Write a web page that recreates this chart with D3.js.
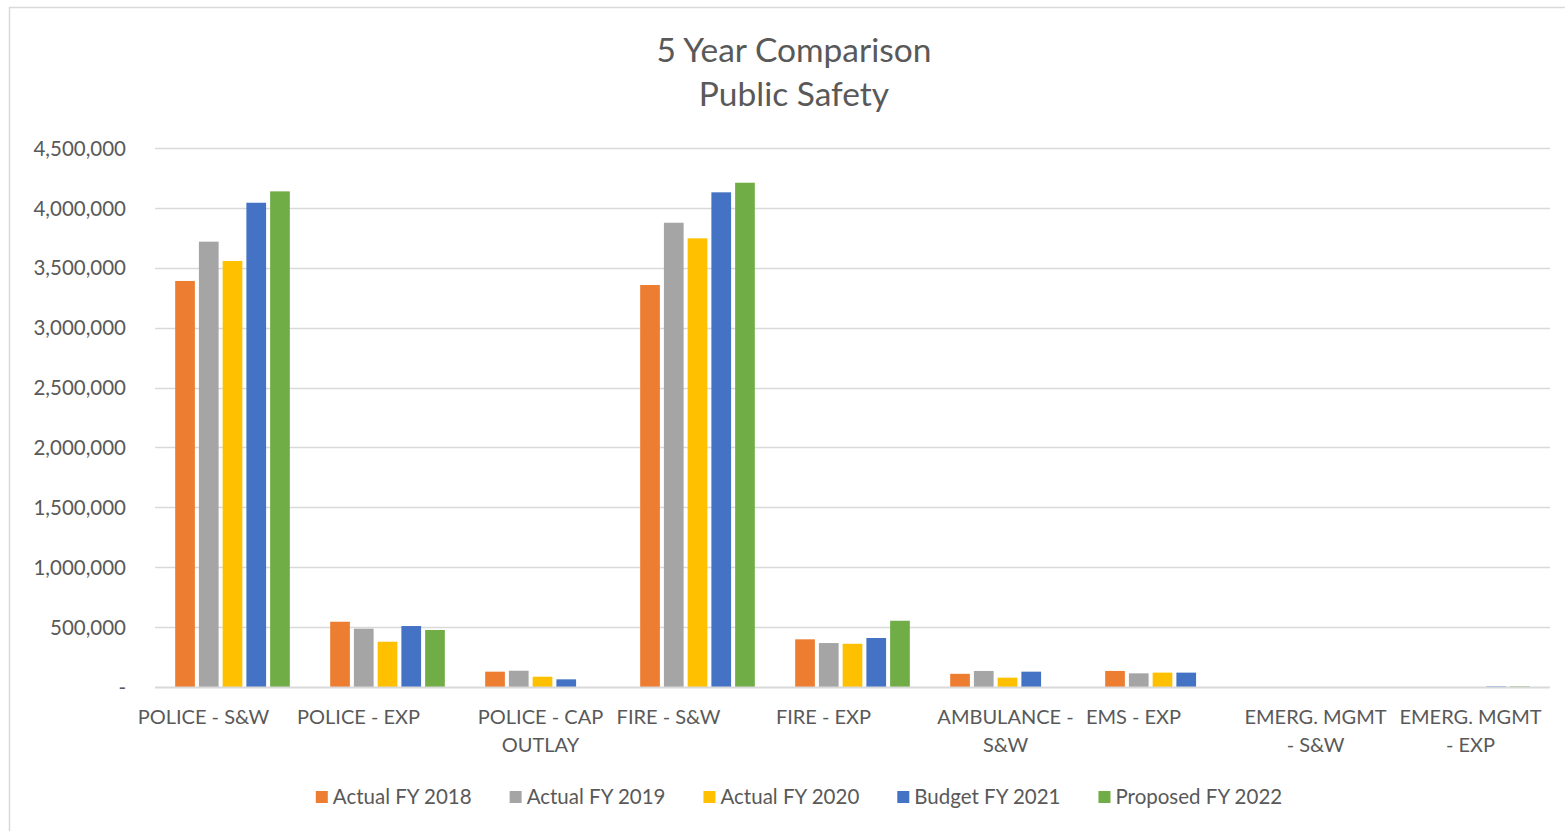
<!DOCTYPE html>
<html><head><meta charset="utf-8">
<script src="https://cdn.jsdelivr.net/npm/d3@7"></script>
<style>body{margin:0;background:#fff;}svg{display:block;font-family:Lato,"Open Sans",sans-serif;}</style>
</head><body><svg id="c" width="1565" height="831"></svg>
<script>
const titleLines = ["5 Year Comparison", "Public Safety"];
const categories = ["POLICE - S&W","POLICE - EXP","POLICE - CAP OUTLAY","FIRE - S&W","FIRE - EXP","AMBULANCE - S&W","EMS - EXP","EMERG. MGMT - S&W","EMERG. MGMT - EXP"];
const categoryLines = [["POLICE - S&W"],["POLICE - EXP"],["POLICE - CAP","OUTLAY"],["FIRE - S&W"],["FIRE - EXP"],["AMBULANCE -","S&W"],["EMS - EXP"],["EMERG. MGMT","- S&W"],["EMERG. MGMT","- EXP"]];
const seriesNames = ["Actual FY 2018","Actual FY 2019","Actual FY 2020","Budget FY 2021","Proposed FY 2022"];
const actual2018  = [3390000, 545000, 128000, 3356000, 398000, 110000, 134000, 0, 0];
const actual2019  = [3718000, 487000, 136000, 3876000, 367000, 134000, 114000, 0, 0];
const actual2020  = [3557000, 378000,  86000, 3746000, 361000,  78000, 120000, 0, 0];
const budget2021  = [4043000, 509000,  64000, 4130000, 409000, 128000, 120000, 0, 5000];
const proposed2022= [4138000, 476000,      0, 4210000, 553000,      0,      0, 0, 5000];
const seriesValues = [actual2018, actual2019, actual2020, budget2021, proposed2022];
const yTicks = [0,500000,1000000,1500000,2000000,2500000,3000000,3500000,4000000,4500000];
const colors = ["#ED7D31","#A5A5A5","#FFC000","#4472C4","#70AD47"];

const svg = d3.select("#c");
const textColor = "#595959";
svg.append("rect").attr("x",9.5).attr("y",7.5).attr("width",1560).attr("height",830).attr("fill","none").attr("stroke","#d9d9d9").attr("stroke-width",1.5);

svg.append("text").attr("x",794).attr("y",62).attr("text-anchor","middle").attr("font-size",33.5).attr("fill",textColor).text(titleLines[0]);
svg.append("text").attr("x",794).attr("y",106).attr("text-anchor","middle").attr("font-size",33.5).attr("fill",textColor).text(titleLines[1]);

const pLeft=155, pRight=1550, pTop=148, pBottom=687;
const y = d3.scaleLinear().domain([0,4500000]).range([pBottom, pTop]);
const x0 = d3.scaleBand().domain(categories).range([pLeft,pRight]).paddingInner(0.245).paddingOuter(0.1225);
const x1 = d3.scaleBand().domain(seriesNames).range([0,x0.bandwidth()]).paddingInner(0.17).paddingOuter(0.05);

svg.append("g").selectAll("line").data(yTicks.slice(1)).join("line")
  .attr("x1",pLeft).attr("x2",pRight).attr("y1",d=>Math.round(y(d))+0.5).attr("y2",d=>Math.round(y(d))+0.5)
  .attr("stroke","#d9d9d9").attr("stroke-width",1.3);

const fmt = d3.format(",");
const yAxis = d3.axisLeft(y).tickValues(yTicks).tickSize(0).tickPadding(0).tickFormat(d=> d===0 ? "-" : fmt(d));
const yg = svg.append("g").attr("transform",`translate(126,0)`).call(yAxis);
yg.select(".domain").remove();
yg.selectAll("text").attr("font-size",20.5).attr("fill",textColor).attr("font-family","Lato,'Open Sans',sans-serif").attr("dy","0.35em");

const groups = svg.append("g").selectAll("g").data(categories).join("g")
  .attr("transform",d=>`translate(${x0(d)},0)`);
groups.selectAll("rect").data((d,i)=>seriesNames.map((s,j)=>({s, v:seriesValues[j][i], j}))).join("rect")
  .attr("x",d=>x1(d.s)).attr("width",x1.bandwidth())
  .attr("y",d=>y(d.v)).attr("height",d=>pBottom-y(d.v))
  .attr("fill",d=>colors[d.j]);

svg.append("line").attr("x1",pLeft).attr("x2",pRight).attr("y1",pBottom+0.5).attr("y2",pBottom+0.5).attr("stroke","#d9d9d9").attr("stroke-width",2);

const xl = svg.append("g").selectAll("text").data(categories).join("text")
  .attr("text-anchor","middle").attr("font-size",20).attr("fill",textColor)
  .attr("transform",(d,i)=>{const cx = x0(d)+x0.bandwidth()/2 + (categoryLines[i].length===1 ? -29 : -2); return `translate(${cx},724)`;});
xl.each(function(d,i){
  const t=d3.select(this);
  categoryLines[i].forEach((ln,k)=>t.append("tspan").attr("x",0).attr("y",k*28).text(ln));
});

const lg = svg.append("g");
let lx = 0;
seriesNames.forEach((s,j)=>{
  const g = lg.append("g").attr("transform",`translate(${lx},0)`);
  g.append("rect").attr("x",0).attr("y",-6).attr("width",12).attr("height",12).attr("fill",colors[j]);
  const t = g.append("text").attr("x",17).attr("y",0).attr("dy","0.35em").attr("font-size",20.5).attr("fill",textColor).text(s);
  lx += 17 + t.node().getComputedTextLength() + 38;
});
const totalW = lx - 38;
lg.attr("transform",`translate(${799 - totalW/2},797)`);
</script></body></html>
